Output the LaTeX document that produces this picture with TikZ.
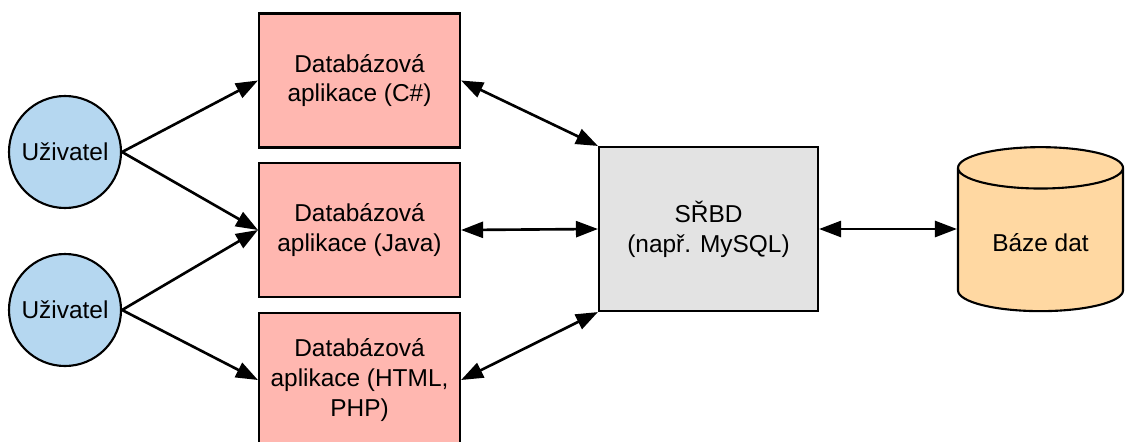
\documentclass[tikz,border=0pt]{standalone}
\usepackage{fontspec}
\setmainfont{Liberation Sans}
\usepackage{tikz}
\usetikzlibrary{positioning, arrows.meta, shapes.geometric}
\definecolor{UserBlue}{RGB}{181,215,240}
\definecolor{AppPink}{RGB}{255,183,176}
\definecolor{DbmsGray}{RGB}{227,227,227}
\definecolor{DataOrange}{RGB}{255,216,162}
\tikzset{
  lbox/.style={draw=black, line width=1.2pt, align=center, inner sep=2pt,
    font=\fontsize{13.9}{17}\selectfont},
  userbox/.style={lbox, circle, fill=UserBlue, minimum size=2.24cm},
  appbox/.style={lbox, fill=AppPink, minimum width=4.02cm, minimum height=2.68cm},
  dbmsbox/.style={lbox, fill=DbmsGray, minimum width=4.38cm, minimum height=3.28cm},
  dbbox/.style={lbox, cylinder, shape border rotate=90, aspect=0.4,
    cylinder uses custom fill, cylinder body fill=DataOrange, cylinder end fill=DataOrange,
    minimum width=3.3cm, minimum height=3.28cm},
  arr/.style={-{Triangle[length=0.44cm, width=0.32cm]}, line width=1.5pt},
  biarr/.style={{Triangle[length=0.44cm, width=0.32cm]}-{Triangle[length=0.44cm, width=0.32cm]}, line width=1.5pt},
}

\begin{document}
\begin{tikzpicture}
  \useasboundingbox (0,0) rectangle (22.5,8.82);
  % users
  \node[userbox] (user1) at (1.3,5.78) {Uživatel};
  \node[userbox] (user2) at (1.3,2.62) {Uživatel};
  % applications
  \node[appbox] (appcs) at (7.19,7.21) {Databázová\\aplikace (C\#)};
  \node[appbox] (appjava) at (7.19,4.22) {Databázová\\aplikace (Java)};
  \node[appbox] (appweb) at (7.19,1.22) {Databázová\\aplikace (HTML,\\PHP)};
  % server and data
  \node[dbmsbox] (dbms) at (14.17,4.24) {SŘBD\\(např. MySQL)};
  \node[dbbox] (db) at (20.81,3.96) {Báze dat};

  \draw[arr] (user1.east) -- (appcs.west);
  \draw[arr] (user1.east) -- (appjava.west);
  \draw[arr] (user2.east) -- (appjava.west);
  \draw[arr] (user2.east) -- (appweb.west);
  \draw[biarr] (appcs.east) -- (dbms.north west);
  \draw[biarr] (appjava.east) -- (dbms.west);
  \draw[biarr] (appweb.east) -- (dbms.south west);
  \draw[biarr] (dbms.east) -- (dbms.east -| db.west);
\end{tikzpicture}
\end{document}
